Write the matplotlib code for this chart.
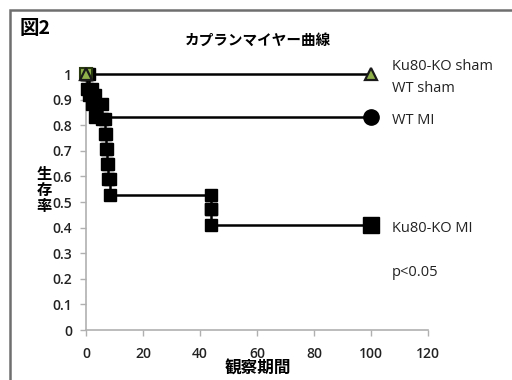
import matplotlib
matplotlib.use("Agg")
import matplotlib.pyplot as plt
from matplotlib.patches import Rectangle

plt.rcParams['font.family'] = ['Noto Sans CJK JP', 'DejaVu Sans']

# ---- data ----
title = "カプランマイヤー曲線"
fig_label = "図2"
xlabel = "観察期間"
ylabel = "生存率"
x_ticks = [0, 20, 40, 60, 80, 100, 120]
y_ticks = [0, 0.1, 0.2, 0.3, 0.4, 0.5, 0.6, 0.7, 0.8, 0.9, 1.0]
y_tick_labels = ["0", "0.1", "0.2", "0.3", "0.4", "0.5", "0.6", "0.7", "0.8", "0.9", "1"]

end_time = 100
# event times and survival after each event
wt_mi_times = [1, 3]
wt_mi_surv = [0.917, 0.833]
ko_mi_times = [0.5, 2, 5.5, 6.7, 7.0, 7.4, 7.7, 8.4, 44, 44]
ko_mi_surv = [0.941, 0.882, 0.824, 0.765, 0.706, 0.647, 0.588, 0.529, 0.471, 0.412]
sham_surv = 1.0

series_labels = ["Ku80-KO sham", "WT sham", "WT MI", "Ku80-KO MI"]
p_text = "p<0.05"


def step_path(times, surv, t_end):
    xs, ys = [0], [1.0]
    prev = 1.0
    for t, s in zip(times, surv):
        xs += [t, t]
        ys += [prev, s]
        prev = s
    xs.append(t_end)
    ys.append(prev)
    return xs, ys


fig = plt.figure(figsize=(5.12, 3.80), dpi=100)
fig.patches.append(Rectangle((10 / 512, -0.2), 1.2, 1 - 10 / 380 + 0.2,
                             transform=fig.transFigure, fill=False,
                             edgecolor='#6e6e6e', linewidth=1.8))

ax = fig.add_axes([86 / 512, 1 - 330 / 380, (428 - 86) / 512, (330 - 74) / 380])

green = '#8fb04a'

# Ku80-KO MI
xs, ys = step_path(ko_mi_times, ko_mi_surv, end_time)
ax.plot(xs, ys, color='black', lw=1.8, clip_on=False, zorder=3)
ax.plot(xs[:-1], ys[:-1], 's', color='black', ms=9, clip_on=False, zorder=3)
ax.plot(xs[-1], ys[-1], 's', color='black', ms=11, clip_on=False, zorder=4)

# WT MI
xs, ys = step_path(wt_mi_times, wt_mi_surv, end_time)
ax.plot(xs, ys, color='black', lw=1.8, clip_on=False, zorder=3)
ax.plot(xs[:-1], ys[:-1], 's', color='black', ms=9, clip_on=False, zorder=3)
ax.plot(xs[-1], ys[-1], 'o', color='black', ms=11, clip_on=False, zorder=4)

# sham (both groups)
ax.plot([0, end_time], [sham_surv, sham_surv], color='black', lw=1.8, clip_on=False, zorder=5)
ax.plot([0], [sham_surv], 's', mfc=green, mec='#2a3a10', mew=1.5, ms=9, clip_on=False, zorder=6)
ax.plot([0, end_time], [sham_surv, sham_surv], '^', mfc=green, mec='#1a1a1a', mew=1.6,
        ms=8, lw=0, clip_on=False, zorder=7)

ax.set_xlim(0, 120)
ax.set_ylim(0, 1)
ax.set_xticks(x_ticks)
ax.set_yticks(y_ticks)
ax.set_yticklabels(y_tick_labels)
for s in ['top', 'right']:
    ax.spines[s].set_visible(False)
for s in ['left', 'bottom']:
    ax.spines[s].set_color('#b0b0b0')
    ax.spines[s].set_linewidth(1.2)
ax.tick_params(direction='out', length=4, color='#b0b0b0', labelsize=10,
               labelcolor='#222222', width=1)
ax.tick_params(axis='y', pad=6)
ax.tick_params(axis='x', pad=8)
for lbl in ax.get_xticklabels() + ax.get_yticklabels():
    lbl.set_family(['Open Sans', 'DejaVu Sans'])
    lbl.set_fontweight('semibold')

# texts
fig.text(258 / 512, 1 - 369 / 380, xlabel, fontsize=12, fontweight='bold',
         ha='center', va='center')
fig.text(44 / 512, 1 - 190 / 380, "\n".join(ylabel), fontsize=11, fontweight='bold',
         ha='center', va='center', linespacing=1.0)
fig.text(258 / 512, 1 - 40 / 380, title, fontsize=10.5, fontweight='bold', ha='center', va='center')
fig.text(20 / 512, 1 - 29 / 380, fig_label, fontsize=14, fontweight='bold', ha='left', va='center')

lab_y = [66, 88, 120, 228]
for lab, yy in zip(series_labels, lab_y):
    fig.text(392 / 512, 1 - yy / 380, lab, fontsize=10.5, ha='left', va='center',
             family=['Open Sans', 'DejaVu Sans'], color='#222222')
fig.text(392 / 512, 1 - 272 / 380, p_text, fontsize=10.5, ha='left', va='center',
         family=['Open Sans', 'DejaVu Sans'], color='#222222')

fig.savefig("out.png", dpi=100)
